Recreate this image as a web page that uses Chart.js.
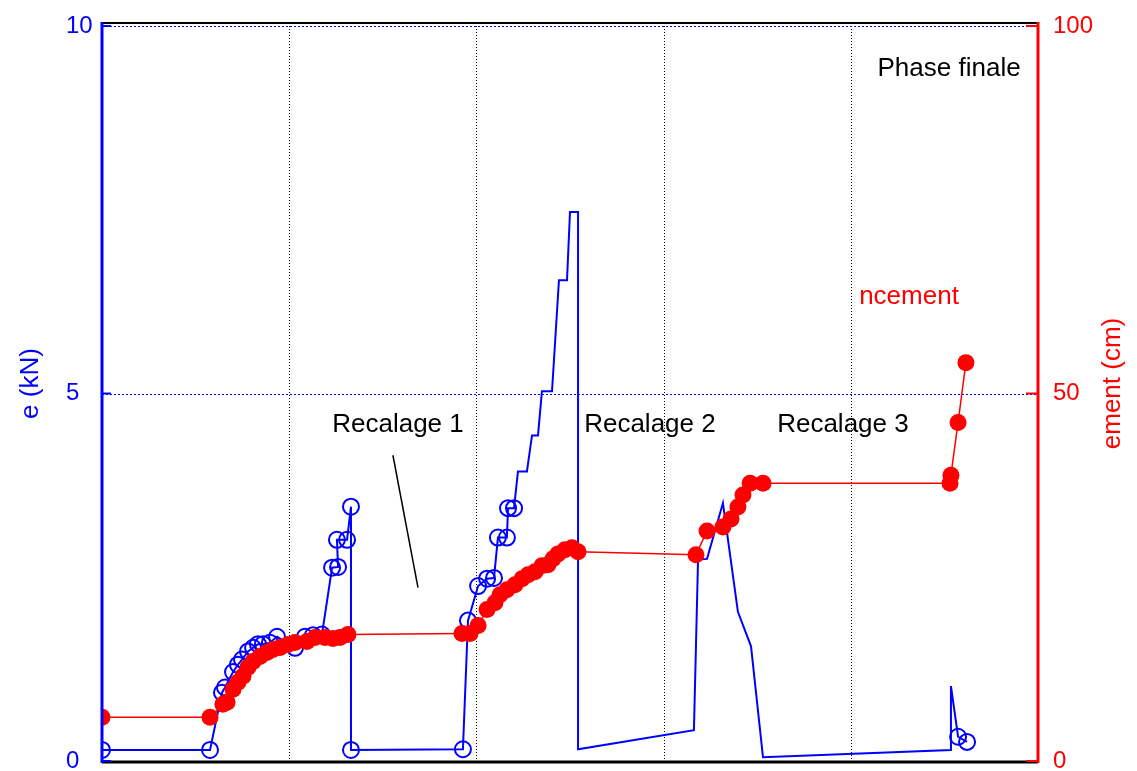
<!DOCTYPE html>
<html><head><meta charset="utf-8">
<script src="https://cdn.jsdelivr.net/npm/chart.js@4/dist/chart.umd.min.js"></script>
<style>html,body{margin:0;padding:0;background:#fff;overflow:hidden}</style>
</head><body>
<canvas id="c" width="1137" height="771"></canvas>
<script>
// ---- data ----
const forceTime = [0,0.577,0.641,0.657,0.700,0.726,0.748,0.780,0.807,0.833,0.860,0.897,0.935,1.031,1.084,1.127,1.175,1.229,1.261,1.255,1.309,1.330,1.330,1.928,1.955,2.009,2.057,2.094,2.115,2.163,2.169,2.201,2.222,2.270,2.297,2.329,2.350,2.404,2.441,2.484,2.500,2.543,2.543,3.162,3.184,3.232,3.317,3.397,3.467,3.531,4.535,4.535,4.573,4.621];
const forceKN = [0.15,0.15,0.93,1.00,1.21,1.31,1.38,1.49,1.54,1.59,1.59,1.61,1.69,1.54,1.69,1.71,1.72,2.63,2.64,3.01,3.01,3.46,0.15,0.16,1.91,2.38,2.48,2.49,3.04,3.04,3.44,3.44,3.94,3.94,4.43,4.43,5.03,5.03,6.54,6.54,7.47,7.47,0.16,0.42,2.74,2.75,3.51,2.03,1.56,0.05,0.15,1.02,0.33,0.26];
const displTime = [0,0.577,0.646,0.668,0.700,0.726,0.753,0.780,0.807,0.844,0.881,0.913,0.951,0.994,1.031,1.095,1.138,1.191,1.234,1.271,1.314,1.923,1.966,2.009,2.057,2.099,2.126,2.163,2.206,2.244,2.276,2.313,2.350,2.382,2.409,2.436,2.473,2.511,2.543,3.173,3.232,3.317,3.360,3.397,3.424,3.462,3.531,4.530,4.535,4.573,4.615];
const displCm = [5.96,5.96,7.72,7.99,9.76,10.70,11.52,12.74,13.55,14.23,14.77,15.18,15.45,15.85,16.12,16.26,16.80,16.80,16.67,16.80,17.21,17.34,17.34,18.43,20.60,21.54,22.63,23.31,23.98,24.80,25.34,25.75,26.56,26.69,27.51,28.18,28.73,29.00,28.46,28.05,31.30,31.84,32.93,34.55,36.18,37.80,37.80,37.80,38.89,46.07,54.20];
const xTicks = [0,1,2,3,4,5];
const leftTicks = [0,5,10];
const rightTicks = [0,50,100];
const leftTitle = 'e (kN)';
const rightTitle = 'ement (cm)';
const noteTexts = ['Phase finale','Recalage 1','Recalage 2','Recalage 3','ncement'];
const noteX = [4.525,1.581,2.927,3.958,4.311];
const noteY = [9.42,4.58,4.58,4.58,6.31];
const noteColors = ['#000000','#000000','#000000','#000000','#ff0000'];
const pointerLineX = [1.554,1.688];
const pointerLineY = [4.16,2.36];

const FONT = "'Liberation Sans', Arial, Helvetica, sans-serif";
const FSIZE = 26;
const TICKSIZE = 24;
const BLUE = '#0000ff', RED = '#ff0000';
const markedForce = x => x <= 2.21 || x >= 4.55;

const zeroPad = s => { s.paddingTop = 0; s.paddingBottom = 0; s.paddingLeft = 0; s.paddingRight = 0; };

const gridPlugin = {
  id:'dottedGrid',
  beforeDatasetsDraw(chart){
    const {ctx, chartArea:a, scales} = chart;
    ctx.save();
    ctx.lineWidth = 1;
    ctx.strokeStyle = '#000'; ctx.setLineDash([1,2]);
    xTicks.forEach(v=>{
      if (v === scales.x.min || v === scales.x.max) return;
      const x = Math.round(scales.x.getPixelForValue(v)) + 0.5;
      ctx.beginPath(); ctx.moveTo(x, a.top); ctx.lineTo(x, a.bottom); ctx.stroke();
    });
    ctx.strokeStyle = BLUE; ctx.setLineDash([2,2]);
    leftTicks.forEach(v=>{
      if (v === scales.y.min) return;
      const y = Math.round(scales.y.getPixelForValue(v)) + 0.5;
      ctx.beginPath(); ctx.moveTo(a.left, y); ctx.lineTo(a.right, y); ctx.stroke();
    });
    ctx.restore();
  }
};

const decor = {
  id:'decor',
  afterDraw(chart){
    const {ctx, chartArea:a, scales} = chart;
    const sx = scales.x, sy = scales.y, sy1 = scales.y1;
    ctx.save();
    ctx.lineCap = 'butt';
    ctx.strokeStyle = '#000'; ctx.lineWidth = 2;
    ctx.beginPath(); ctx.moveTo(a.left, a.top-3); ctx.lineTo(a.right, a.top-3); ctx.stroke();
    ctx.lineWidth = 3;
    ctx.beginPath(); ctx.moveTo(a.left, a.bottom+1); ctx.lineTo(a.right, a.bottom+1); ctx.stroke();
    ctx.strokeStyle = BLUE; ctx.lineWidth = 3;
    ctx.beginPath(); ctx.moveTo(a.left, a.top-4); ctx.lineTo(a.left, a.bottom+2); ctx.stroke();
    ctx.lineWidth = 2;
    leftTicks.forEach(v=>{const y=sy.getPixelForValue(v); ctx.beginPath(); ctx.moveTo(a.left, y); ctx.lineTo(a.left+9, y); ctx.stroke();});
    ctx.strokeStyle = RED; ctx.lineWidth = 3;
    ctx.beginPath(); ctx.moveTo(a.right, a.top-4); ctx.lineTo(a.right, a.bottom+2); ctx.stroke();
    ctx.lineWidth = 2;
    rightTicks.forEach(v=>{const y=sy1.getPixelForValue(v); ctx.beginPath(); ctx.moveTo(a.right-12, y); ctx.lineTo(a.right, y); ctx.stroke();});
    ctx.strokeStyle = '#000'; ctx.lineWidth = 1.5;
    ctx.beginPath();
    ctx.moveTo(sx.getPixelForValue(pointerLineX[0]), sy.getPixelForValue(pointerLineY[0]));
    ctx.lineTo(sx.getPixelForValue(pointerLineX[1]), sy.getPixelForValue(pointerLineY[1]));
    ctx.stroke();
    ctx.font = FSIZE + 'px ' + FONT; ctx.textAlign = 'center'; ctx.textBaseline = 'middle';
    noteTexts.forEach((t,i)=>{
      ctx.fillStyle = noteColors[i];
      ctx.fillText(t, sx.getPixelForValue(noteX[i]), sy.getPixelForValue(noteY[i]));
    });
    const midY = (a.top + a.bottom)/2 - 10;
    ctx.save(); ctx.translate(31, midY); ctx.rotate(-Math.PI/2);
    ctx.fillStyle = BLUE; ctx.fillText(leftTitle, 0, 0); ctx.restore();
    ctx.save(); ctx.translate(1113, midY); ctx.rotate(-Math.PI/2);
    ctx.fillStyle = RED; ctx.fillText(rightTitle, 0, 0); ctx.restore();
    ctx.restore();
  }
};

new Chart(document.getElementById('c'), {
  type:'scatter',
  data:{datasets:[
    {label:'Déplacement', yAxisID:'y1', showLine:true,
     data: displTime.map((t,i)=>({x:t, y:displCm[i]})),
     borderColor:RED, borderWidth:1.5, pointRadius:8.5, pointHoverRadius:8.5,
     pointBackgroundColor:RED, pointBorderColor:RED, pointBorderWidth:0},
    {label:'Force', yAxisID:'y', showLine:true,
     data: forceTime.map((t,i)=>({x:t, y:forceKN[i]})),
     borderColor:BLUE, borderWidth:2,
     pointRadius: c => (c.raw && markedForce(c.raw.x)) ? 8 : 0,
     pointHoverRadius: c => (c.raw && markedForce(c.raw.x)) ? 8 : 0,
     pointBackgroundColor:'rgba(0,0,0,0)', pointBorderColor:BLUE, pointBorderWidth:2}
  ]},
  options:{
    responsive:false, animation:false, events:[], devicePixelRatio:1,
    layout:{padding:{left:66, right:0, top:26, bottom:9}},
    plugins:{legend:{display:false}, tooltip:{enabled:false}},
    scales:{
      x:{type:'linear', min:0, max:5,
         afterBuildTicks: s => { s.ticks = xTicks.map(v=>({value:v})); },
         afterFit: s => { s.height = 0; zeroPad(s); },
         ticks:{display:false},
         grid:{display:false, drawTicks:false},
         border:{display:false}},
      y:{position:'left', min:0, max:10,
         afterBuildTicks: s => { s.ticks = leftTicks.map(v=>({value:v})); },
         afterFit: s => { s.width = 36; zeroPad(s); },
         ticks:{color:BLUE, font:{size:TICKSIZE, family:FONT}, crossAlign:'far', padding:0},
         grid:{display:false, drawTicks:false},
         border:{display:false}},
      y1:{position:'right', min:0, max:100,
         afterBuildTicks: s => { s.ticks = rightTicks.map(v=>({value:v})); },
         afterFit: s => { s.width = 99; zeroPad(s); },
         ticks:{color:RED, font:{size:TICKSIZE, family:FONT}, padding:15},
         grid:{display:false, drawTicks:false},
         border:{display:false}}
    }
  },
  plugins:[gridPlugin, decor]
});
</script>
</body></html>
